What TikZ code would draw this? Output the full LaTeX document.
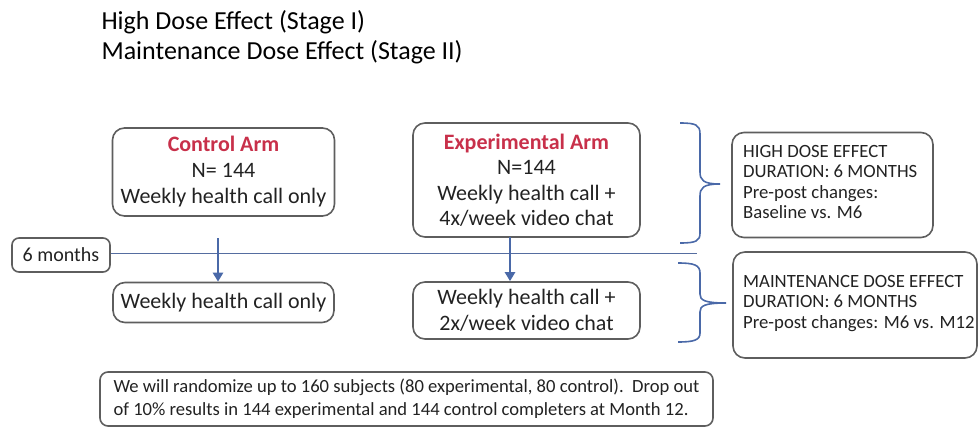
\documentclass[tikz,border=0pt]{standalone}
\usepackage{fontspec}
\setmainfont{Carlito}
\usetikzlibrary{arrows.meta}
\definecolor{boxgray}{HTML}{5E5E5E}
\definecolor{armred}{HTML}{C8304A}
\definecolor{lineblue}{HTML}{4A69A8}
\definecolor{txt}{HTML}{222222}
\tikzset{
  box/.style={draw=boxgray, line width=1.6pt, rounded corners=12pt, inner sep=0pt, text=txt, align=center},
  conn/.style={draw=lineblue, line width=2.6pt, -{Triangle[length=9pt,width=10pt]}},
  brace/.style={draw=lineblue, line width=1.6pt},
  tline/.style={draw=lineblue!80!gray, line width=1.2pt},
}
\begin{document}
\begin{tikzpicture}[x=1pt,y=-1pt]
\useasboundingbox (0,0) rectangle (979,428);
% titles
\node[anchor=west, font=\fontsize{26}{30}\selectfont, text=black, align=left] (title) at (98,37)
  {High Dose Effect (Stage I)\\Maintenance Dose Effect (Stage II)};
% arms
\node[box, minimum width=222pt, minimum height=88pt, font=\fontsize{22}{26}\selectfont] (ctrl) at (223.5,172)
  {{\bfseries\color{armred}Control Arm}\\N= 144\\Weekly health call only};
\node[box, minimum width=227pt, minimum height=114pt, font=\fontsize{22}{25.5}\selectfont] (exp) at (526.5,180)
  {{\bfseries\color{armred}Experimental Arm}\\N=144\\Weekly health call +\\4x/week video chat};
\node[box, minimum width=221pt, minimum height=40pt, font=\fontsize{22}{26}\selectfont] (ctrlLow) at (223.5,302.5)
  {Weekly health call only};
\node[box, minimum width=227pt, minimum height=57pt, font=\fontsize{22}{25.5}\selectfont] (expLow) at (526.5,310.5)
  {Weekly health call +\\2x/week video chat};
\node[box, rounded corners=7pt, minimum width=98pt, minimum height=34pt, font=\fontsize{20}{24}\selectfont] (six) at (61,255)
  {6 months};
% right boxes
\node[box, minimum width=201pt, minimum height=105pt] (high) at (832.5,185) {};
\node[anchor=north west, align=left, text=txt, inner sep=0pt, font=\fontsize{18.7}{20.5}\selectfont] (hightxt) at (743,145)
  {HIGH DOSE EFFECT\\DURATION: 6 MONTHS\\Pre-post changes:\\Baseline vs. M6};
\node[box, minimum width=244pt, minimum height=106pt] (maint) at (855,305) {};
\node[anchor=north west, align=left, text=txt, inner sep=0pt, font=\fontsize{18.7}{20.5}\selectfont] (mainttxt) at (743,275)
  {MAINTENANCE DOSE EFFECT\\DURATION: 6 MONTHS\\Pre-post changes: M6 vs. M12};
% note
\node[box, rounded corners=8pt, minimum width=613pt, minimum height=54pt, align=left, font=\fontsize{18.6}{23}\selectfont] (note) at (406.5,399)
  {We will randomize up to 160 subjects (80 experimental, 80 control).\ \ Drop out\\of 10\% results in 144 experimental and 144 control completers at Month 12.};
% timeline
\coordinate (lineEnd) at (697,253.5);
\draw[tline] (six.east |- lineEnd) -- (lineEnd);
% arrows
\coordinate (c1) at (218,238);
\draw[conn] (c1) -- (c1 |- ctrlLow.north);
\coordinate (c2) at (510,237);
\draw[conn] (c2) -- (c2 |- expLow.north);
% braces
\draw[brace] (680,123) .. controls (696,123) and (700,125) .. (700,134) -- (700,172)
  .. controls (700,180) and (703,184) .. (720,184)
  .. controls (703,184) and (700,188) .. (700,196) -- (700,233)
  .. controls (700,241) and (696,243) .. (680,243);
\draw[brace] (678,263) .. controls (694,263) and (700,265) .. (700,273) -- (700,294)
  .. controls (700,300) and (704,303) .. (726,303)
  .. controls (704,303) and (700,306) .. (700,312) -- (700,333)
  .. controls (700,340) and (694,342) .. (678,342);
\end{tikzpicture}
\end{document}
